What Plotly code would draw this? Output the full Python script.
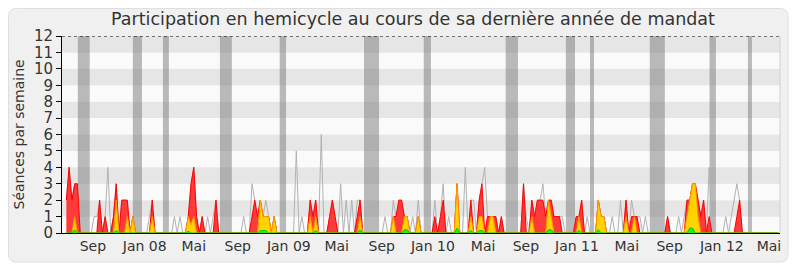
import plotly.graph_objects as go
import pandas as pd

# ---------------- data ----------------
start_date = "2007-06-15"          # first weekly point
n_weeks = 258

# red: présences (séances par semaine)
presences = [
    2, 4, 2, 3, 3, 0, 0, 0, 0, 0,
    0, 0, 2, 0, 1, 0, 0, 1, 3, 0,
    2, 2, 2, 0, 1, 0, 0, 0, 0, 0,
    0, 2, 0, 0, 0, 0, 0, 0, 0, 0,
    0, 0, 0, 0, 1, 3, 4, 1, 0, 1,
    0, 0, 0, 0, 2, 0, 0, 0, 0, 0,
    0, 0, 0, 0, 0, 0, 0, 1, 2, 1,
    2, 1, 1, 1, 0, 1, 0, 0, 0, 0,
    0, 0, 0, 0, 0, 0, 0, 0, 2, 1,
    2, 0, 0, 0, 0, 1, 2, 1, 0, 0,
    0, 0, 0, 0, 0, 1, 2, 0, 0, 0,
    0, 0, 0, 0, 0, 0, 0, 0, 1, 1,
    2, 2, 1, 1, 0, 0, 0, 1, 0, 0,
    0, 0, 0, 1, 0, 1, 2, 0, 0, 0,
    0, 3, 0, 0, 0, 0, 2, 0, 0, 2,
    3, 0, 1, 1, 1, 1, 0, 1, 0, 0,
    0, 0, 0, 0, 0, 3, 0, 0, 2, 1,
    2, 2, 2, 1, 2, 2, 1, 1, 1, 0,
    0, 0, 0, 0, 1, 1, 2, 0, 0, 0,
    0, 0, 2, 1, 1, 0, 0, 0, 0, 0,
    0, 0, 2, 0, 1, 1, 1, 0, 0, 0,
    0, 0, 0, 0, 0, 0, 0, 1, 0, 0,
    0, 0, 0, 0, 2, 2, 3, 3, 2, 1,
    2, 0, 1, 0, 0, 0, 0, 0, 0, 0,
    0, 0, 1, 2, 0, 0, 0, 0, 0, 0,
    0, 0, 0, 0, 0, 0, 0, 0,
]

# yellow: participations
participations = [
    0, 0, 0, 1, 0, 0, 0, 0, 0, 0,
    0, 0, 0, 0, 0, 0, 0, 0, 2, 0,
    0, 0, 1, 0, 1, 0, 0, 0, 0, 0,
    0, 1, 0, 0, 0, 0, 0, 0, 0, 0,
    0, 0, 0, 0, 1, 0.5, 1, 0, 0, 0,
    0, 0, 0, 0, 0, 0, 0, 0, 0, 0,
    0, 0, 0, 0, 0, 0, 0, 0, 0, 0,
    2, 1, 1, 1, 0, 1, 0, 0, 0, 0,
    0, 0, 0, 0, 0, 0, 0, 0, 1, 0,
    1, 0, 0, 0, 0, 0, 0, 0, 0, 0,
    0, 0, 0, 0, 0, 0, 1, 0, 0, 0,
    0, 0, 0, 0, 0, 0, 0, 0, 1, 0,
    0, 0, 1, 1, 0, 0, 0, 1, 0, 0,
    0, 0, 0, 0, 0, 0, 0, 0, 0, 0,
    0, 3, 0, 0, 0, 0, 1, 0, 0, 1,
    1, 0, 0, 1, 1, 0, 0, 0, 0, 0,
    0, 0, 0, 0, 0, 0, 0, 0, 1, 0,
    0, 0, 0, 0, 2, 1, 0, 0, 0, 0,
    0, 0, 0, 0, 0, 1, 0, 0, 0, 0,
    0, 0, 2, 1, 1, 0, 0, 0, 0, 0,
    0, 0, 1, 0, 0, 1, 0, 0, 0, 0,
    0, 0, 0, 0, 0, 0, 0, 0, 0, 0,
    0, 0, 0, 0, 1, 2, 3, 3, 1, 0,
    0, 0, 0, 0, 0, 0, 0, 0, 0, 0,
    0, 0, 0, 0, 0, 0, 0, 0, 0, 0,
    0, 0, 0, 0, 0, 0, 0, 0,
]

# green: questions
questions = [
    0, 0, 0, 0.2, 0, 0, 0, 0, 0, 0,
    0, 0, 0, 0, 0, 0, 0, 0, 0.15, 0,
    0, 0, 0, 0, 0, 0, 0, 0, 0, 0,
    0, 0, 0, 0, 0, 0, 0, 0, 0, 0,
    0, 0, 0, 0, 0.1, 0, 0, 0, 0, 0,
    0, 0, 0, 0, 0, 0, 0, 0, 0, 0,
    0, 0, 0, 0, 0, 0, 0, 0, 0, 0,
    0.15, 0.15, 0.15, 0, 0, 0, 0, 0, 0, 0,
    0, 0, 0, 0, 0, 0, 0, 0, 0, 0,
    0.15, 0, 0, 0, 0, 0, 0, 0, 0, 0,
    0, 0, 0, 0, 0, 0, 0.2, 0, 0, 0,
    0, 0, 0, 0, 0, 0, 0, 0, 0, 0,
    0, 0, 0.2, 0.2, 0, 0, 0, 0, 0, 0,
    0, 0, 0, 0, 0, 0, 0, 0, 0, 0,
    0, 0.3, 0, 0, 0, 0, 0.15, 0, 0, 0.15,
    0.15, 0, 0, 0, 0, 0, 0, 0, 0, 0,
    0, 0, 0, 0, 0, 0, 0, 0, 0, 0,
    0, 0, 0, 0, 0.2, 0.2, 0, 0, 0, 0,
    0, 0, 0, 0, 0, 0.15, 0, 0, 0, 0,
    0, 0, 0.2, 0, 0, 0, 0, 0, 0, 0,
    0, 0, 0, 0, 0, 0, 0, 0, 0, 0,
    0, 0, 0, 0, 0, 0, 0, 0, 0, 0,
    0, 0, 0, 0, 0, 0.3, 0.3, 0, 0, 0,
    0, 0, 0, 0, 0, 0, 0, 0, 0, 0,
    0, 0, 0, 0, 0, 0, 0, 0, 0, 0,
    0, 0, 0, 0, 0, 0, 0, 0,
]

# grey line: séances
seances = [
    2, 4, 2, 3, 3, 0, 0, 0, 0, 0,
    1, 1, 2, 0, 1, 4, 0, 1, 3, 0,
    2, 2, 2, 0, 1, 0, 0, 0, 0, 0,
    1, 2, 0, 0, 0, 0, 0, 0, 0, 1,
    0, 1, 0, 0, 1, 3, 4, 1, 0, 1,
    0, 1, 0, 1, 2, 0, 0, 0, 0, 0,
    0, 0, 0, 0, 1, 0, 0, 3, 2, 1,
    2, 1, 2, 1, 0, 1, 0, 0, 0, 0,
    0, 0, 0, 5, 0, 1, 0, 0, 2, 1,
    2, 0, 6, 0, 0, 1, 2, 1, 0, 3,
    0, 2, 0, 2, 0, 2, 2, 0, 0, 0,
    0, 0, 0, 0, 0, 1, 0, 0, 2, 1,
    2, 2, 1, 1, 0, 1, 0, 2, 0, 0,
    0, 0, 0, 2, 0, 1, 3, 0, 1, 0,
    0, 3, 0, 0, 4, 0, 2, 2, 0, 2,
    3, 4, 1, 1, 1, 1, 0, 1, 0, 0,
    0, 0, 0, 0, 0, 3, 1, 0, 2, 1,
    2, 2, 3, 1, 2, 2, 1, 1, 1, 1,
    0, 0, 0, 0, 1, 1, 2, 0, 1, 0,
    0, 0, 2, 1, 1, 0, 0, 1, 0, 0,
    2, 0, 2, 0, 2, 1, 1, 1, 0, 1,
    0, 0, 0, 0, 0, 0, 0, 1, 0, 0,
    0, 1, 0, 1, 2, 2, 3, 3, 2, 1,
    2, 0, 4, 0, 0, 0, 0, 0, 1, 0,
    1, 2, 3, 2, 0, 0, 0, 0, 0, 0,
    0, 0, 0, 0, 0, 0, 0, 0,
]

# parliamentary breaks (grey vertical bands)
vacances = [
    ("2007-07-14", "2007-08-13"), ("2007-11-30", "2007-12-23"),
    ("2008-02-14", "2008-02-29"), ("2008-07-07", "2008-08-06"),
    ("2008-12-05", "2008-12-21"), ("2009-07-06", "2009-08-13"),
    ("2009-12-04", "2009-12-22"), ("2010-06-29", "2010-07-30"),
    ("2010-11-28", "2010-12-21"), ("2011-01-28", "2011-02-07"),
    ("2011-06-28", "2011-08-05"), ("2011-11-26", "2011-12-12"),
    ("2012-03-02", "2012-03-12"),
]

tick_dates = ["2007-08-21", "2007-12-30", "2008-05-02", "2008-08-21", "2008-12-28",
              "2009-04-28", "2009-08-20", "2009-12-27", "2010-05-03", "2010-08-19",
              "2010-12-26", "2011-05-01", "2011-08-17", "2011-12-27", "2012-04-24"]
tick_labels = ["Sep", "Jan 08", "Mai", "Sep", "Jan 09", "Mai", "Sep", "Jan 10", "Mai",
               "Sep", "Jan 11", "Mai", "Sep", "Jan 12", "Mai"]

x_range = ["2007-06-04", "2012-05-22"]
y_max = 12

# ---------------- figure ----------------
dates = pd.date_range(start_date, periods=n_weeks, freq="7D")

OFF = 8                      # page body margin of the browser
W, H = 800 - OFF, 267 - OFF
# plot area in page pixels: x 62..780, y 36..233
ML, MT = 62 - OFF, 36 - OFF
PW, PH = 718, 197
MR = W - ML - PW
MB = H - MT - PH

def px_x(p):                 # page pixel -> paper x
    return (p - OFF - ML) / PW

def px_y(p):                 # page pixel -> paper y
    return (MT + PH - (p - OFF)) / PH

FONT = "DejaVu Sans"
TXT = "#333333"

fig = go.Figure()

fig.add_trace(go.Scatter(x=dates, y=seances, mode="lines",
                         line=dict(color="#b2b2b2", width=1), hoverinfo="skip",
                         showlegend=False))
fig.add_trace(go.Scatter(x=dates, y=presences, mode="lines", fill="tozeroy",
                         fillcolor="#ff3a3a", line=dict(color="#ff0000", width=1),
                         showlegend=False))
fig.add_trace(go.Scatter(x=dates, y=participations, mode="lines", fill="tozeroy",
                         fillcolor="#ffd200", line=dict(color="#ff9a00", width=1),
                         showlegend=False))
fig.add_trace(go.Scatter(x=dates, y=questions, mode="lines", fill="tozeroy",
                         fillcolor="#22ee22", line=dict(color="#00cc00", width=1),
                         showlegend=False))

shapes = []
# rounded light-grey frame
x0, x1 = px_x(OFF + 0.5), px_x(788)
y0, y1 = px_y(262), px_y(OFF + 0.5)
rx, ry = 8 / PW, 8 / PH
path = (f"M {x0+rx},{y1} L {x1-rx},{y1} Q {x1},{y1} {x1},{y1-ry} "
        f"L {x1},{y0+ry} Q {x1},{y0} {x1-rx},{y0} L {x0+rx},{y0} "
        f"Q {x0},{y0} {x0},{y0+ry} L {x0},{y1-ry} Q {x0},{y1} {x0+rx},{y1} Z")
shapes.append(dict(type="path", xref="paper", yref="paper", path=path,
                   fillcolor="#f0f0f0", line=dict(color="#dedede", width=1),
                   layer="below"))
# horizontal bands
for k in range(y_max):
    shapes.append(dict(type="rect", xref="paper", yref="y", x0=0, x1=1, y0=k, y1=k + 1,
                       fillcolor="#fafafa" if k % 2 == 0 else "#e6e6e6",
                       line=dict(width=0), layer="below"))
# breaks
for a, b in vacances:
    shapes.append(dict(type="rect", xref="x", yref="y", x0=a, x1=b, y0=0, y1=y_max,
                       fillcolor="rgba(120,120,120,0.5)", line=dict(width=0),
                       layer="below"))
# top dotted line and right edge
shapes.append(dict(type="line", xref="paper", yref="y", x0=0, x1=1, y0=y_max, y1=y_max,
                   line=dict(color="#000000", width=1, dash="dot")))
shapes.append(dict(type="line", xref="paper", yref="y", x0=1, x1=1, y0=0, y1=y_max,
                   line=dict(color="#d0d0d0", width=1)))

fig.update_layout(
    width=W, height=H,
    margin=dict(l=ML, r=MR, t=MT, b=MB, pad=0),
    paper_bgcolor="#ffffff", plot_bgcolor="#fafafa",
    font=dict(family=FONT, size=14, color=TXT),
    title=dict(text="Participation en hemicycle au cours de sa dernière année de mandat",
               x=(413 - OFF) / W, xref="container", xanchor="center",
               y=1 - (19 - OFF) / H, yref="container", yanchor="middle",
               font=dict(family=FONT, size=17.5, color=TXT)),
    shapes=shapes,
    annotations=[dict(text="Séances par semaine", textangle=-90, xref="paper",
                      yref="paper", x=px_x(18), y=0.5, xanchor="center",
                      yanchor="middle", showarrow=False,
                      font=dict(family=FONT, size=14, color=TXT))],
    showlegend=False,
)
fig.update_xaxes(type="date", range=x_range, tickvals=tick_dates, ticktext=tick_labels,
                 showgrid=False, zeroline=False, showline=True, linecolor="#000000",
                 linewidth=1, ticks="", tickfont=dict(size=14, color=TXT))
fig.update_yaxes(range=[0, y_max], tickvals=list(range(y_max + 1)), showgrid=False,
                 zeroline=False, showline=True, linecolor="#000000", linewidth=1,
                 ticks="outside", ticklen=5, tickcolor="#000000",
                 tickfont=dict(size=15, color=TXT))

fig.write_html("out.html")
